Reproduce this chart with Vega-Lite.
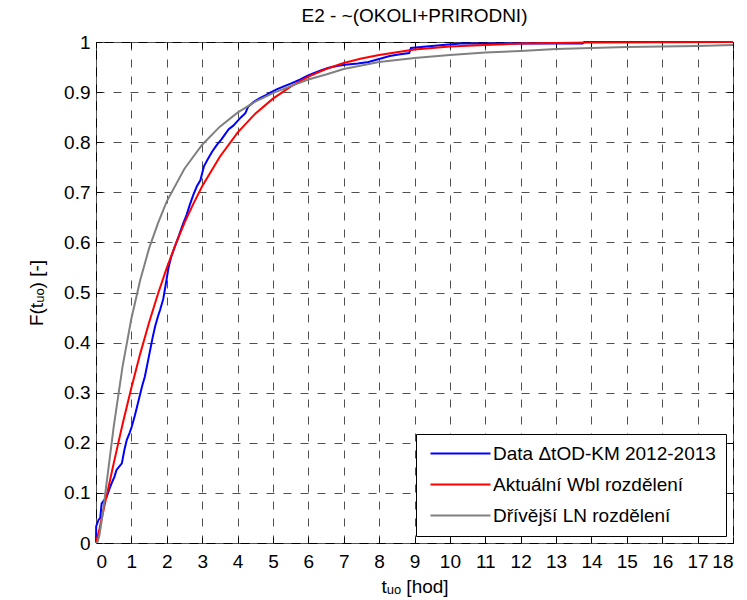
{
  "$schema": "https://vega.github.io/schema/vega-lite/v6.json",
  "width": 637,
  "height": 501,
  "autosize": {"type": "none"},
  "padding": {"left": 96, "top": 42, "right": 14, "bottom": 57},
  "background": "white",
  "title": {"text": "E2 - ~(OKOLI+PRIRODNI)", "fontSize": 19, "fontWeight": "normal", "color": "black", "baseline": "alphabetic", "offset": -8},
  "datasets": {
    "blue": [
      {"s": "data", "t": 0, "F": 0},
      {"s": "data", "t": 0.005, "F": 0.033},
      {"s": "data", "t": 0.07, "F": 0.046},
      {"s": "data", "t": 0.12, "F": 0.05},
      {"s": "data", "t": 0.16, "F": 0.079},
      {"s": "data", "t": 0.30, "F": 0.092},
      {"s": "data", "t": 0.38, "F": 0.108},
      {"s": "data", "t": 0.44, "F": 0.119},
      {"s": "data", "t": 0.52, "F": 0.132},
      {"s": "data", "t": 0.58, "F": 0.146},
      {"s": "data", "t": 0.73, "F": 0.159},
      {"s": "data", "t": 0.80, "F": 0.185},
      {"s": "data", "t": 0.87, "F": 0.206},
      {"s": "data", "t": 0.95, "F": 0.22},
      {"s": "data", "t": 1.01, "F": 0.232},
      {"s": "data", "t": 1.10, "F": 0.255},
      {"s": "data", "t": 1.17, "F": 0.275},
      {"s": "data", "t": 1.24, "F": 0.295},
      {"s": "data", "t": 1.31, "F": 0.315},
      {"s": "data", "t": 1.38, "F": 0.332},
      {"s": "data", "t": 1.46, "F": 0.36},
      {"s": "data", "t": 1.53, "F": 0.385},
      {"s": "data", "t": 1.60, "F": 0.41},
      {"s": "data", "t": 1.67, "F": 0.432},
      {"s": "data", "t": 1.75, "F": 0.452},
      {"s": "data", "t": 1.81, "F": 0.465},
      {"s": "data", "t": 1.90, "F": 0.487},
      {"s": "data", "t": 1.98, "F": 0.52},
      {"s": "data", "t": 2.05, "F": 0.55},
      {"s": "data", "t": 2.12, "F": 0.57},
      {"s": "data", "t": 2.22, "F": 0.59},
      {"s": "data", "t": 2.33, "F": 0.611},
      {"s": "data", "t": 2.45, "F": 0.635},
      {"s": "data", "t": 2.56, "F": 0.655},
      {"s": "data", "t": 2.65, "F": 0.675},
      {"s": "data", "t": 2.75, "F": 0.695},
      {"s": "data", "t": 2.85, "F": 0.712},
      {"s": "data", "t": 2.95, "F": 0.724},
      {"s": "data", "t": 3.05, "F": 0.752},
      {"s": "data", "t": 3.15, "F": 0.765},
      {"s": "data", "t": 3.28, "F": 0.781},
      {"s": "data", "t": 3.41, "F": 0.794},
      {"s": "data", "t": 3.55, "F": 0.806},
      {"s": "data", "t": 3.65, "F": 0.816},
      {"s": "data", "t": 3.75, "F": 0.826},
      {"s": "data", "t": 3.88, "F": 0.833},
      {"s": "data", "t": 3.97, "F": 0.840},
      {"s": "data", "t": 4.10, "F": 0.85},
      {"s": "data", "t": 4.22, "F": 0.858},
      {"s": "data", "t": 4.30, "F": 0.871},
      {"s": "data", "t": 4.45, "F": 0.88},
      {"s": "data", "t": 4.63, "F": 0.888},
      {"s": "data", "t": 4.80, "F": 0.894},
      {"s": "data", "t": 4.95, "F": 0.9},
      {"s": "data", "t": 5.12, "F": 0.906},
      {"s": "data", "t": 5.29, "F": 0.911},
      {"s": "data", "t": 5.50, "F": 0.917},
      {"s": "data", "t": 5.76, "F": 0.925},
      {"s": "data", "t": 5.95, "F": 0.932},
      {"s": "data", "t": 6.15, "F": 0.938},
      {"s": "data", "t": 6.35, "F": 0.943},
      {"s": "data", "t": 6.55, "F": 0.948},
      {"s": "data", "t": 6.80, "F": 0.952},
      {"s": "data", "t": 7.10, "F": 0.955},
      {"s": "data", "t": 7.40, "F": 0.957},
      {"s": "data", "t": 7.70, "F": 0.960},
      {"s": "data", "t": 8.00, "F": 0.966},
      {"s": "data", "t": 8.30, "F": 0.972},
      {"s": "data", "t": 8.55, "F": 0.975},
      {"s": "data", "t": 8.85, "F": 0.978},
      {"s": "data", "t": 8.90, "F": 0.988},
      {"s": "data", "t": 9.34, "F": 0.991},
      {"s": "data", "t": 9.80, "F": 0.994},
      {"s": "data", "t": 10.30, "F": 0.997},
      {"s": "data", "t": 13.75, "F": 0.997},
      {"s": "data", "t": 13.80, "F": 1.0},
      {"s": "data", "t": 18, "F": 1.0}
    ],
    "fits": [
      {"s": "wbl", "t": 0, "F": 0},
      {"s": "wbl", "t": 0.1, "F": 0.029},
      {"s": "wbl", "t": 0.25, "F": 0.078},
      {"s": "wbl", "t": 0.5, "F": 0.159},
      {"s": "wbl", "t": 0.75, "F": 0.237},
      {"s": "wbl", "t": 1, "F": 0.310},
      {"s": "wbl", "t": 1.25, "F": 0.378},
      {"s": "wbl", "t": 1.5, "F": 0.440},
      {"s": "wbl", "t": 1.75, "F": 0.497},
      {"s": "wbl", "t": 2, "F": 0.549},
      {"s": "wbl", "t": 2.25, "F": 0.596},
      {"s": "wbl", "t": 2.5, "F": 0.639},
      {"s": "wbl", "t": 2.75, "F": 0.677},
      {"s": "wbl", "t": 3, "F": 0.712},
      {"s": "wbl", "t": 3.5, "F": 0.771},
      {"s": "wbl", "t": 4, "F": 0.819},
      {"s": "wbl", "t": 4.5, "F": 0.857},
      {"s": "wbl", "t": 5, "F": 0.887},
      {"s": "wbl", "t": 5.5, "F": 0.911},
      {"s": "wbl", "t": 6, "F": 0.931},
      {"s": "wbl", "t": 6.5, "F": 0.946},
      {"s": "wbl", "t": 7, "F": 0.958},
      {"s": "wbl", "t": 7.5, "F": 0.967},
      {"s": "wbl", "t": 8, "F": 0.974},
      {"s": "wbl", "t": 9, "F": 0.985},
      {"s": "wbl", "t": 10, "F": 0.991},
      {"s": "wbl", "t": 11, "F": 0.994},
      {"s": "wbl", "t": 12, "F": 0.997},
      {"s": "wbl", "t": 13, "F": 0.998},
      {"s": "wbl", "t": 14, "F": 0.9989},
      {"s": "wbl", "t": 16, "F": 0.9996},
      {"s": "wbl", "t": 18, "F": 0.9999},
      {"s": "ln", "t": 0, "F": 0},
      {"s": "ln", "t": 0.05, "F": 0.003},
      {"s": "ln", "t": 0.1, "F": 0.0165},
      {"s": "ln", "t": 0.2, "F": 0.063},
      {"s": "ln", "t": 0.3, "F": 0.12},
      {"s": "ln", "t": 0.5, "F": 0.232},
      {"s": "ln", "t": 0.75, "F": 0.352},
      {"s": "ln", "t": 1, "F": 0.448},
      {"s": "ln", "t": 1.25, "F": 0.525},
      {"s": "ln", "t": 1.5, "F": 0.588},
      {"s": "ln", "t": 1.75, "F": 0.638},
      {"s": "ln", "t": 2, "F": 0.682},
      {"s": "ln", "t": 2.5, "F": 0.747},
      {"s": "ln", "t": 3, "F": 0.795},
      {"s": "ln", "t": 3.5, "F": 0.831},
      {"s": "ln", "t": 4, "F": 0.859},
      {"s": "ln", "t": 4.5, "F": 0.881},
      {"s": "ln", "t": 5, "F": 0.898},
      {"s": "ln", "t": 5.5, "F": 0.912},
      {"s": "ln", "t": 6, "F": 0.925},
      {"s": "ln", "t": 6.5, "F": 0.935},
      {"s": "ln", "t": 7, "F": 0.946},
      {"s": "ln", "t": 7.5, "F": 0.953},
      {"s": "ln", "t": 8, "F": 0.96},
      {"s": "ln", "t": 9, "F": 0.968},
      {"s": "ln", "t": 10, "F": 0.974},
      {"s": "ln", "t": 11, "F": 0.979},
      {"s": "ln", "t": 12, "F": 0.982},
      {"s": "ln", "t": 13, "F": 0.986},
      {"s": "ln", "t": 14, "F": 0.988},
      {"s": "ln", "t": 15, "F": 0.99},
      {"s": "ln", "t": 16, "F": 0.991},
      {"s": "ln", "t": 17, "F": 0.992},
      {"s": "ln", "t": 18, "F": 0.994}
    ]
  },
  "layer": [
    {
      "data": {"name": "blue"},
      "mark": {"type": "line", "strokeWidth": 2},
      "encoding": {
        "x": {
          "field": "t", "type": "quantitative",
          "scale": {"domain": [0, 18], "nice": false, "zero": false},
          "axis": {
            "orient": "bottom",
            "values": [0,1,2,3,4,5,6,7,8,9,10,11,12,13,14,15,16,17,18],
            "format": "~g",
            "grid": true,
            "tickSize": -6,
            "labelPadding": 15,
            "title": "tᵤₒ [hod]",
            "titlePadding": 6
          }
        },
        "y": {
          "field": "F", "type": "quantitative",
          "scale": {"domain": [0, 1], "nice": false, "zero": false},
          "axis": {
            "orient": "left",
            "values": [0,0.1,0.2,0.3,0.4,0.5,0.6,0.7,0.8,0.9,1],
            "format": "~g",
            "grid": true,
            "tickSize": -6,
            "labelPadding": 12,
            "title": "F(tᵤₒ) [-]",
            "titlePadding": 17
          }
        },
        "color": {
          "field": "s", "type": "nominal",
          "scale": {"domain": ["data", "wbl", "ln"], "range": ["#0000ff", "#ff0000", "#808080"]},
          "legend": {
            "orient": "bottom-right",
            "offset": 7,
            "title": null,
            "labelExpr": "datum.value == 'data' ? 'Data ΔtOD-KM 2012-2013' : datum.value == 'wbl' ? 'Aktuální Wbl rozdělení' : 'Dřívější LN rozdělení'",
            "labelFontSize": 19,
            "labelColor": "black",
            "labelLimit": 0,
            "symbolType": "M-1,0H11",
            "symbolSize": 100,
            "symbolStrokeWidth": 2,
            "labelOffset": 48,
            "rowPadding": 11,
            "padding": 10,
            "strokeColor": "black",
            "fillColor": "white"
          }
        }
      }
    },
    {
      "data": {"name": "fits"},
      "mark": {"type": "line", "strokeWidth": 2},
      "encoding": {
        "x": {
          "field": "t", "type": "quantitative",
          "axis": {
            "orient": "top",
            "values": [0,1,2,3,4,5,6,7,8,9,10,11,12,13,14,15,16,17,18],
            "labels": false,
            "grid": false,
            "tickSize": -6,
            "minExtent": 0,
            "maxExtent": 0,
            "title": null
          }
        },
        "y": {
          "field": "F", "type": "quantitative",
          "axis": {
            "orient": "right",
            "values": [0,0.1,0.2,0.3,0.4,0.5,0.6,0.7,0.8,0.9,1],
            "labels": false,
            "grid": false,
            "tickSize": -6,
            "minExtent": 0,
            "maxExtent": 0,
            "title": null
          }
        },
        "color": {"field": "s", "type": "nominal"}
      }
    }
  ],
  "resolve": {"axis": {"x": "independent", "y": "independent"}},
  "config": {
    "font": "Liberation Sans",
    "view": {"stroke": "black", "strokeWidth": 1},
    "axis": {
      "domain": false,
      "tickColor": "black",
      "tickWidth": 1,
      "labelFontSize": 19,
      "labelColor": "black",
      "titleFontSize": 19,
      "titleFontWeight": "normal",
      "titleColor": "black",
      "gridColor": "#505050",
      "gridDash": [8, 9],
      "gridWidth": 1,
      "gridOpacity": 1
    }
  }
}
